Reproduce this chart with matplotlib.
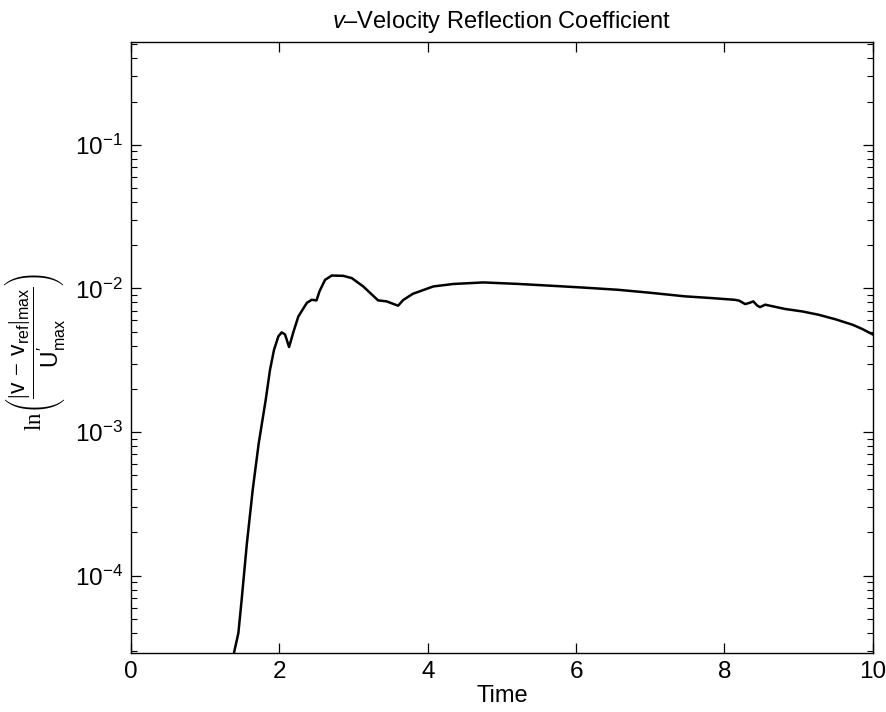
import matplotlib
matplotlib.use("Agg")
import matplotlib.pyplot as plt
import numpy as np
from matplotlib.ticker import LogLocator, FixedLocator, NullLocator

plt.rcParams['font.family'] = ['Liberation Sans', 'DejaVu Sans']
plt.rcParams['mathtext.fontset'] = 'custom'
plt.rcParams['mathtext.rm'] = 'Liberation Serif'
plt.rcParams['mathtext.sf'] = 'Liberation Sans'
plt.rcParams['mathtext.it'] = 'Liberation Sans:italic'

# Time and log10 of reflection coefficient
time = [1.375, 1.39, 1.446, 1.49, 1.56, 1.64, 1.72, 1.815, 1.873, 1.927, 1.985, 2.03,
        2.075, 2.13, 2.19, 2.255, 2.37, 2.435, 2.50, 2.54, 2.615, 2.705, 2.86, 2.975,
        3.13, 3.33, 3.445, 3.60, 3.67, 3.80, 4.075, 4.34, 4.75, 5.20, 5.66, 6.10,
        6.56, 7.00, 7.47, 7.80, 8.14, 8.20, 8.28, 8.34, 8.39, 8.44, 8.48, 8.55,
        8.82, 9.05, 9.27, 9.50, 9.73, 9.85, 10.0]
log_value = [-4.60, -4.53, -4.40, -4.17, -3.78, -3.40, -3.08, -2.775, -2.566, -2.427,
             -2.334, -2.306, -2.32, -2.408, -2.30, -2.195, -2.10, -2.079, -2.083, -2.02,
             -1.94, -1.91, -1.912, -1.928, -1.986, -2.083, -2.09, -2.12, -2.08, -2.037,
             -1.986, -1.969, -1.958, -1.968, -1.981, -1.994, -2.009, -2.030, -2.055,
             -2.066, -2.079, -2.085, -2.109, -2.100, -2.09, -2.118, -2.13, -2.113,
             -2.143, -2.160, -2.183, -2.215, -2.253, -2.28, -2.32]

values = [10 ** v for v in log_value]

fig = plt.figure(figsize=(8.86, 7.12), dpi=100)
ax = fig.add_axes([0.148, 0.083, 0.837, 0.858])
ax.plot(time, values, color='black', linewidth=1.8)
ax.set_yscale('log')
ax.set_xlim(0, 10)
ax.set_ylim(2.9e-5, 0.52)

ax.xaxis.set_major_locator(FixedLocator([0, 2, 4, 6, 8, 10]))
ax.xaxis.set_minor_locator(NullLocator())
ax.yaxis.set_major_locator(FixedLocator([1e-4, 1e-3, 1e-2, 1e-1]))
ax.yaxis.set_minor_locator(LogLocator(base=10, subs=np.arange(2, 10), numticks=20))
ax.tick_params(which='both', direction='in', top=True, right=True, labelsize=17.5)
ax.tick_params(which='major', length=7, width=0.9, pad=6)
ax.tick_params(which='minor', length=4, width=0.8)
for s in ax.spines.values():
    s.set_linewidth(1.0)

ax.set_title(r'$\mathit{v}$' + '\u2013Velocity Reflection Coefficient', fontsize=17, pad=10)
ax.set_xlabel('Time', fontsize=17, labelpad=1)
ax.set_ylabel(r'$\mathrm{ln}\left(\dfrac{|\mathsf{v}\,-\,\mathsf{v_{ref}}|_{\mathsf{max}}}{\mathsf{U^{\prime}_{max}}}\right)$',
              fontsize=16.5)
ax.yaxis.set_label_coords(-0.085, 0.493)

fig.savefig('out.png', dpi=100)
